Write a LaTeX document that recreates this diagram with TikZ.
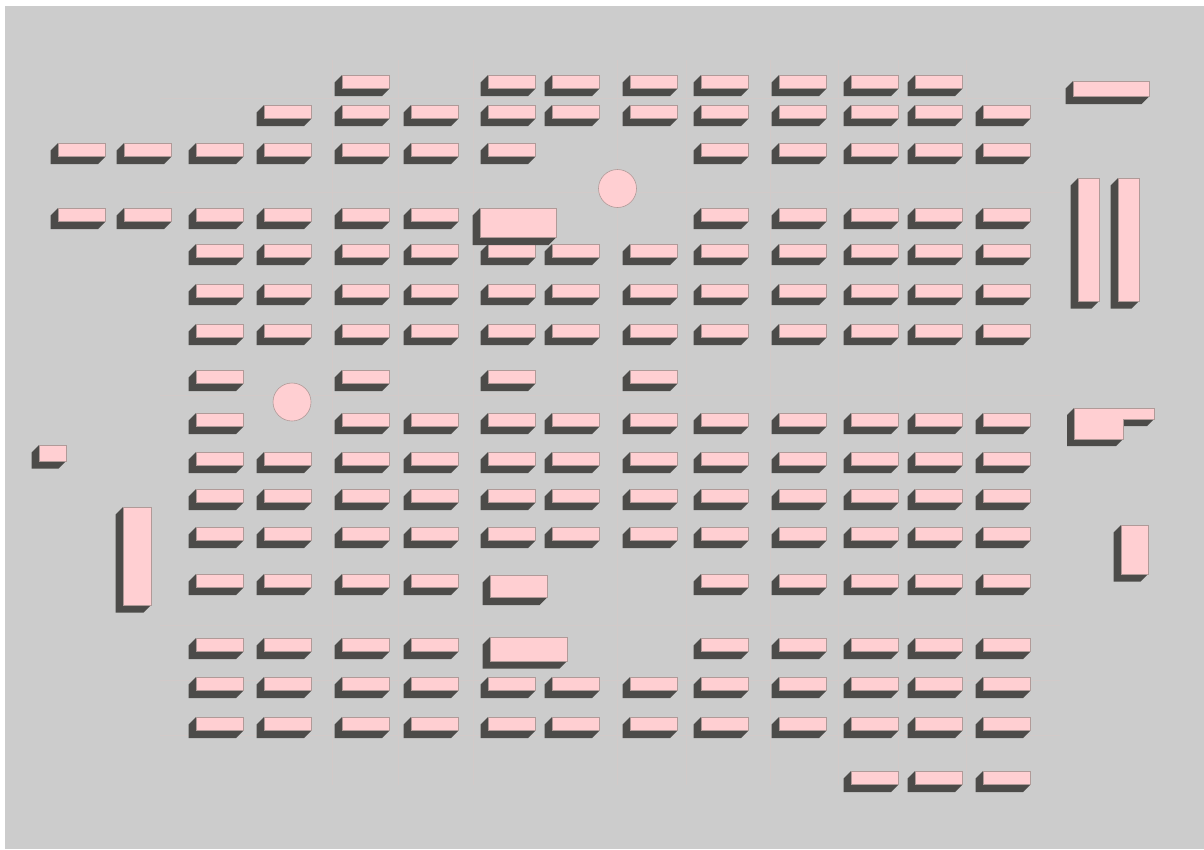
\documentclass[tikz,border=0pt]{standalone}
\definecolor{floorc}{HTML}{CCCCCC}
\definecolor{shadowc}{HTML}{4C4B49}
\definecolor{pinkc}{HTML}{FFCFD2}
\definecolor{edgec}{HTML}{B09A98}
\definecolor{gridc}{HTML}{D2CAC9}
\tikzset{
  blockshadow/.style={fill=shadowc,draw=none},
  blocktop/.style={fill=pinkc,draw=edgec,line width=0.6pt},
  gridline/.style={draw=gridc,line width=0.8pt}
}
% x, y, w, h of the pink face
\newcommand{\Blk}[4]{%
  \fill[blockshadow] (#1,#2) -- ++(-7.5,7.5) -- ++(0,#4) -- ++(#3,0) -- ++(7.5,-7.5) -- cycle;
  \draw[blocktop] (#1,#2) rectangle ++(#3,#4);
}
\def\R{701,779,851,915,983}
\newcommand{\Row}[2]{\edef\rowlist{#2}\foreach \cx in \rowlist {\Blk{\cx}{#1}{47.5}{13.5}}}
\begin{document}
\begin{tikzpicture}[x=1pt,y=-1pt]
\useasboundingbox (0,0) rectangle (1204,849);
\fill[white] (0,0) rectangle (1204,849);
\fill[floorc] (5,6) rectangle (1204,849);
% faint grid
\foreach \gx in {332,398,473,617,686,770,838,898,966} {\draw[gridline] (\gx,60) -- (\gx,785);}
\foreach \gy in {98,192,395,625,680,735} {\draw[gridline] (160,\gy) -- (1060,\gy);}
% rows
\Row{75}{342,488,552,630,701,779,851,915}
\Row{105}{264,342,411,488,552,630,\R}
\Row{143}{58,124,196,264,342,411,488,\R}
\Row{208}{58,124,196,264,342,411,\R}
\Row{244}{196,264,342,411,488,552,630,\R}
\Row{284}{196,264,342,411,488,552,630,\R}
\Row{324}{196,264,342,411,488,552,630,\R}
\Row{370}{196,342,488,630}
\Row{413}{196,342,411,488,552,630,\R}
\Row{452}{196,264,342,411,488,552,630,\R}
\Row{489}{196,264,342,411,488,552,630,\R}
\Row{527}{196,264,342,411,488,552,630,\R}
\Row{574}{196,264,342,411,\R}
\Row{638}{196,264,342,411,\R}
\Row{677}{196,264,342,411,488,552,630,\R}
\Row{717}{196,264,342,411,488,552,630,\R}
\Row{771}{851,915,983}
% large blocks
\Blk{480}{208}{76}{29.5}
\Blk{490}{575}{57}{22.5}
\Blk{490}{637}{77}{24}
\Blk{1073}{81}{76}{15.5}
\Blk{1078}{178}{21}{123}
\Blk{1118}{178}{21}{123}
\Blk{1121}{525}{27}{49}
\Blk{39}{445}{27}{16}
\Blk{123}{507}{28}{98}
% stepped block
\fill[blockshadow] (1074,408) -- (1067,415) -- (1067,446) -- (1116,446) -- (1123,439) -- (1123,426) -- (1147,426) -- (1154,419) -- cycle;
\draw[blocktop] (1074,408) -- (1154,408) -- (1154,419) -- (1123,419) -- (1123,439) -- (1074,439) -- cycle;
% round columns
\draw[blocktop] (617.5,188.5) circle (19);
\draw[blocktop] (292,402) circle (19);
\end{tikzpicture}
\end{document}
